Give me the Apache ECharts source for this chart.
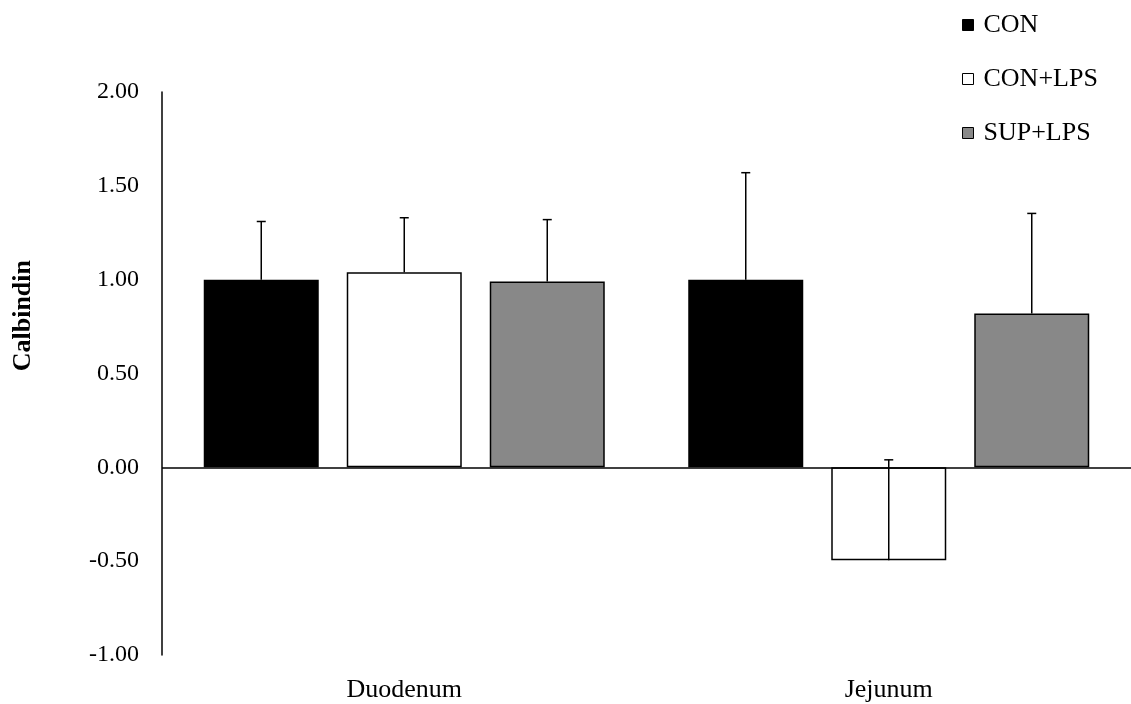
<!DOCTYPE html>
<html>
<head>
<meta charset="utf-8">
<script src="https://cdn.jsdelivr.net/npm/echarts@6/dist/echarts.min.js"></script>
<style>html,body{margin:0;padding:0;background:#fff}#c{width:1131px;height:704px}</style>
</head>
<body>
<div id="c"></div>
<script>
var categories = ['Duodenum', 'Jejunum'];
var seriesNames = ['CON', 'CON+LPS', 'SUP+LPS'];
var conValues = [1.00, 1.00];
var conLpsValues = [1.04, -0.495];
var supLpsValues = [0.99, 0.82];
var conErr = [0.31, 0.57];
var conLpsErr = [0.29, 0.535];
var supLpsErr = [0.33, 0.533];
var yTicks = [-1, -0.5, 0, 0.5, 1, 1.5, 2];

var values = [conValues, conLpsValues, supLpsValues];
var errs = [conErr, conLpsErr, supLpsErr];
var fills = ['#000000', '#ffffff', '#888888'];
var FONT = '"Liberation Serif", "Times New Roman", serif';
var BAR_W = 115, BAR_GAP_PX = 28;

var chart = echarts.init(document.getElementById('c'));

var series = [];
seriesNames.forEach(function (name, i) {
  series.push({
    name: name,
    type: 'bar',
    data: values[i],
    barWidth: BAR_W,
    barGap: (BAR_GAP_PX / BAR_W * 100).toFixed(2) + '%',
    itemStyle: { color: fills[i], borderColor: '#000', borderWidth: 1.5 },
    z: 2,
    markLine: i === 0 ? {
      silent: true, symbol: 'none', label: { show: false },
      lineStyle: { color: '#000', type: 'solid', width: 1.5 },
      data: [{ yAxis: 0 }], z: 5
    } : undefined
  });
});

seriesNames.forEach(function (name, i) {
  var data = categories.map(function (c, k) { return [k, values[i][k], values[i][k] + errs[i][k]]; });
  series.push({
    type: 'custom',
    name: name + '_err',
    data: data,
    z: 10,
    silent: true,
    renderItem: function (params, api) {
      var k = api.value(0);
      var p0 = api.coord([k, api.value(1)]);
      var p1 = api.coord([k, api.value(2)]);
      var off = (i - 1) * (BAR_W + BAR_GAP_PX);
      var x = p0[0] + off;
      var cap = 4.5;
      var st = { stroke: '#000', lineWidth: 1.5 };
      return { type: 'group', children: [
        { type: 'line', shape: { x1: x, y1: p0[1], x2: x, y2: p1[1] }, style: st },
        { type: 'line', shape: { x1: x - cap, y1: p1[1], x2: x + cap, y2: p1[1] }, style: st }
      ]};
    }
  });
});

chart.setOption({
  animation: false,
  backgroundColor: '#fff',
  textStyle: { fontFamily: FONT },
  legend: {
    data: seriesNames,
    orient: 'vertical',
    left: 957,
    top: 7,
    itemWidth: 11,
    itemHeight: 11,
    itemGap: 28,
    icon: 'rect',
    textStyle: { fontFamily: FONT, fontSize: 26, color: '#000', padding: [0, 0, 0, 5] },
    itemStyle: { borderColor: '#000', borderWidth: 1 }
  },
  graphic: [{
    type: 'text',
    left: 10,
    top: 260,
    style: { text: 'Calbindin', fontFamily: FONT, fontSize: 26, fontWeight: 'bold', fill: '#000' },
    rotation: Math.PI / 2,
    originX: 0, originY: 0
  }],
  grid: { left: 162, top: 92, right: 0, height: 563 },
  xAxis: {
    type: 'category',
    data: categories,
    axisLine: { show: false, onZero: false },
    axisTick: { show: false },
    axisLabel: { fontFamily: FONT, fontSize: 26, color: '#000', margin: 22 },
    splitLine: { show: false }
  },
  yAxis: {
    type: 'value',
    min: yTicks[0],
    max: yTicks[yTicks.length - 1],
    interval: 0.5,
    axisLine: { show: true, lineStyle: { color: '#000', width: 1.5 } },
    axisTick: { show: false },
    splitLine: { show: false },
    axisLabel: { fontFamily: FONT, fontSize: 24, color: '#000', margin: 23,
      formatter: function (v) { return v.toFixed(2); } }
  },
  series: series
});
</script>
</body>
</html>
